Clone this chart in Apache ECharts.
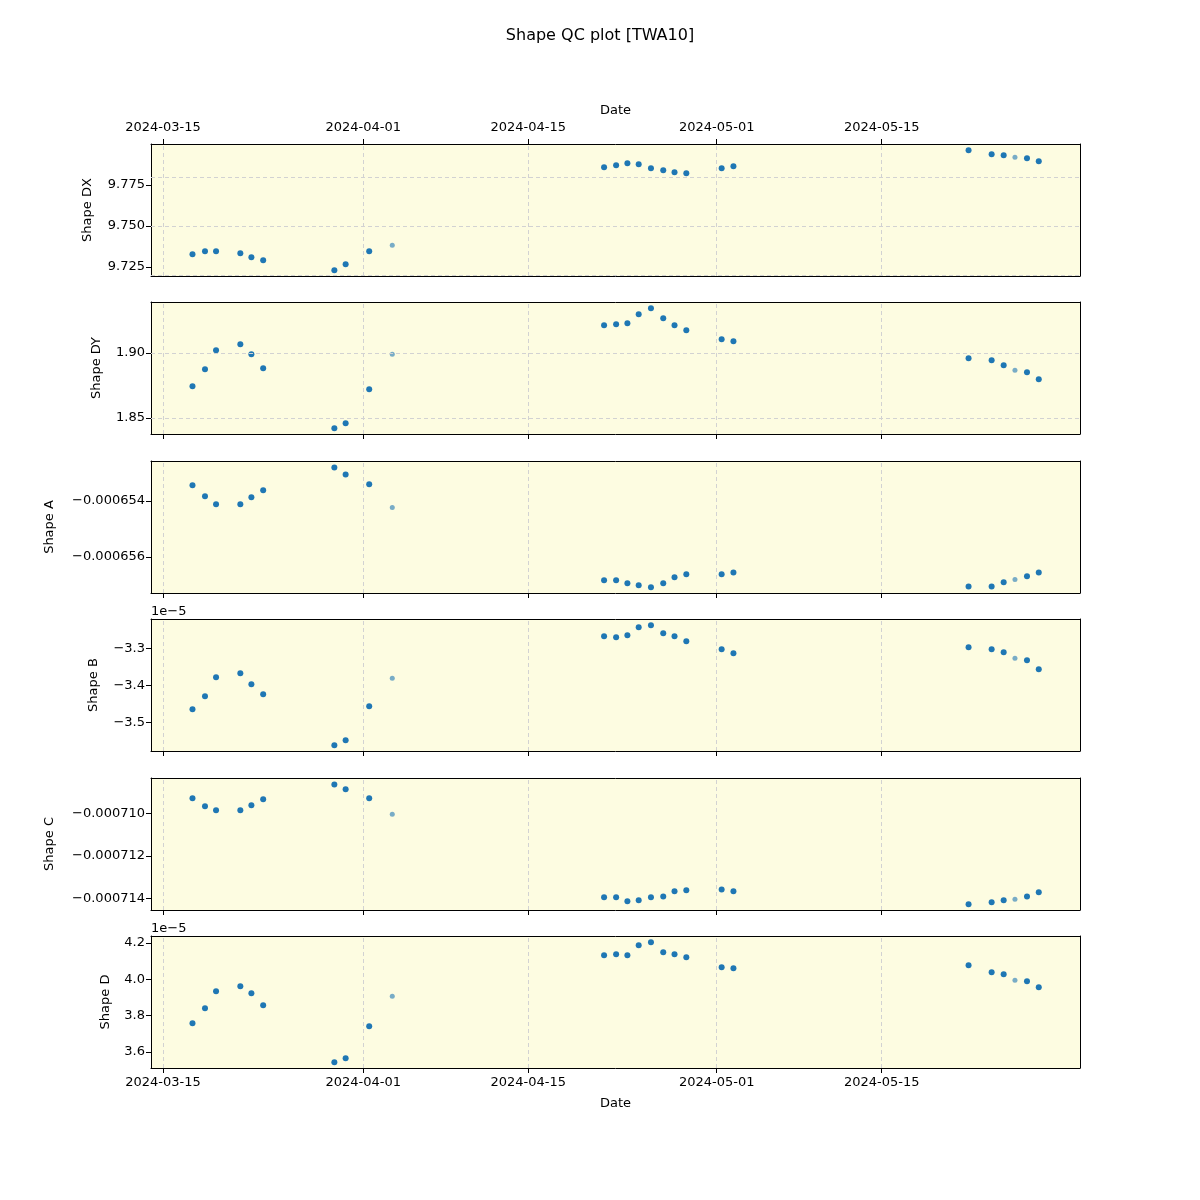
<!DOCTYPE html>
<html>
<head>
<meta charset="utf-8">
<script src="https://cdn.jsdelivr.net/npm/echarts@6/dist/echarts.min.js"></script>
<style>
  html, body { margin: 0; padding: 0; background: #fff; }
  #chart { width: 1200px; height: 1200px; }
</style>
</head>
<body>
<div id="chart"></div>
<script>
// observation dates
const dates = [
  '2024-03-17 12:00', '2024-03-18 13:30', '2024-03-19 12:00', '2024-03-21 13:30',
  '2024-03-22 12:00', '2024-03-23 12:00', '2024-03-29 13:00', '2024-03-30 12:00',
  '2024-04-01 12:00', '2024-04-03 11:00', '2024-04-21 10:30', '2024-04-22 11:00',
  '2024-04-23 10:00', '2024-04-24 09:00', '2024-04-25 10:00', '2024-04-26 11:00',
  '2024-04-27 10:00', '2024-04-28 10:00', '2024-05-01 10:00', '2024-05-02 10:00',
  '2024-05-22 09:00', '2024-05-24 08:00', '2024-05-25 08:30', '2024-05-26 07:30',
  '2024-05-27 08:00', '2024-05-28 08:00'
]
// points drawn lighter
const fadedIdx = [9, 23]

const shapeDX = [9.7327, 9.7346, 9.7346, 9.7334, 9.7309, 9.7291, 9.7230, 9.7266, 9.7346, 9.7382,
  9.7858, 9.7870, 9.7882, 9.7876, 9.7852, 9.7840, 9.7828, 9.7821, 9.7852, 9.7864,
  9.7962, 9.7937, 9.7931, 9.7919, 9.7913, 9.7895]
const shapeDY = [1.8744, 1.8875, 1.9021, 1.9067, 1.8990, 1.8882, 1.8421, 1.8459, 1.8721, 1.8990,
  1.9213, 1.9221, 1.9228, 1.9297, 1.9344, 1.9267, 1.9213, 1.9174, 1.9105, 1.9090,
  1.8959, 1.8944, 1.8905, 1.8867, 1.8851, 1.8798]
const shapeA = [-0.00065344, -0.00065383, -0.00065412, -0.00065412, -0.00065387, -0.00065362,
  -0.00065280, -0.00065305, -0.00065340, -0.00065423,
  -0.00065683, -0.00065683, -0.00065694, -0.00065701, -0.00065708, -0.00065694, -0.00065672,
  -0.00065662, -0.00065662, -0.00065655,
  -0.00065705, -0.00065705, -0.00065690, -0.00065680, -0.00065669, -0.00065655]
const shapeB = [-3.4649e-5, -3.4297e-5, -3.3784e-5, -3.3676e-5, -3.3973e-5, -3.4243e-5,
  -3.5622e-5, -3.5486e-5, -3.4568e-5, -3.3811e-5,
  -3.2676e-5, -3.2703e-5, -3.2649e-5, -3.2432e-5, -3.2378e-5, -3.2595e-5, -3.2676e-5,
  -3.2811e-5, -3.3027e-5, -3.3135e-5,
  -3.2973e-5, -3.3027e-5, -3.3108e-5, -3.3270e-5, -3.3324e-5, -3.3568e-5]
const shapeC = [-0.00070929, -0.00070967, -0.00070986, -0.00070986, -0.00070962, -0.00070934,
  -0.00070864, -0.00070887, -0.00070929, -0.00071005,
  -0.00071395, -0.00071395, -0.00071414, -0.00071409, -0.00071395, -0.00071391, -0.00071367,
  -0.00071362, -0.00071358, -0.00071367,
  -0.00071428, -0.00071419, -0.00071409, -0.00071405, -0.00071391, -0.00071372]
const shapeD = [3.7578e-5, 3.8404e-5, 3.9339e-5, 3.9615e-5, 3.9229e-5, 3.8569e-5,
  3.5431e-5, 3.5651e-5, 3.7413e-5, 3.9064e-5,
  4.1321e-5, 4.1376e-5, 4.1321e-5, 4.1872e-5, 4.2037e-5, 4.1486e-5, 4.1376e-5,
  4.1211e-5, 4.0661e-5, 4.0606e-5,
  4.0771e-5, 4.0385e-5, 4.0275e-5, 3.9945e-5, 3.9890e-5, 3.9560e-5]

// tick labels
const dateTicks = ['2024-03-15', '2024-04-01', '2024-04-15', '2024-05-01', '2024-05-15']
const dxTicks = [9.725, 9.750, 9.775]
const dyTicks = [1.85, 1.90]
const aTicks = [-0.000656, -0.000654]
const bTicks = [-3.5e-5, -3.4e-5, -3.3e-5]
const cTicks = [-0.000714, -0.000712, -0.000710]
const dTicks = [3.6e-5, 3.8e-5, 4.0e-5, 4.2e-5]

const minus = s => s.replace('-', '\u2212')
const panels = [
  {name: 'Shape DX', values: shapeDX, ticks: dxTicks, min: 9.71951, max: 9.8000, gap: 57, fmt: v => v.toFixed(3)},
  {name: 'Shape DY', values: shapeDY, ticks: dyTicks, min: 1.8377, max: 1.9392, gap: 48, fmt: v => v.toFixed(2)},
  {name: 'Shape A', values: shapeA, ticks: aTicks, min: -0.000657286, max: -0.000652571, gap: 95, fmt: v => minus(v.toFixed(6))},
  {name: 'Shape B', values: shapeB, ticks: bTicks, min: -3.5776e-5, max: -3.2208e-5, gap: 51, fmt: v => minus((v / 1e-5).toFixed(1)), exp: true},
  {name: 'Shape C', values: shapeC, ticks: cTicks, min: -0.00071455, max: -0.00070834, gap: 95, fmt: v => minus(v.toFixed(6))},
  {name: 'Shape D', values: shapeD, ticks: dTicks, min: 3.5117e-5, max: 4.2384e-5, gap: 39, fmt: v => (v / 1e-5).toFixed(1), exp: true}
]

const tops = [144, 302, 461, 619, 778, 936]
const plotH = 132
const font = 'DejaVu Sans'
const toTs = s => new Date(s.replace(' ', 'T') + (s.length === 10 ? 'T00:00:00' : ':00')).getTime()
const xMin = toTs('2024-03-13 23:30')
const xMax = toTs('2024-05-31 20:00')
const tickTs = dateTicks.map(toTs)
const dateTs = dates.map(toTs)
const pad = n => String(n).padStart(2, '0')
const fmtDate = v => { const d = new Date(v); return d.getFullYear() + '-' + pad(d.getMonth() + 1) + '-' + pad(d.getDate()) }
const gridLine = {color: '#d2d2d2', type: [4, 3], width: 1}
const blackLine = {show: true, lineStyle: {color: '#000', width: 1}}

const chart = echarts.init(document.getElementById('chart'))

const grid = [], xAxis = [], yAxis = [], series = [], graphic = []
const frameX = [], frameY = []
panels.forEach((p, i) => {
  grid.push({
    left: 151, right: 120, top: tops[i], height: plotH,
    show: true, backgroundColor: '#fdfce1', borderWidth: 0
  })
  const isTop = i === 0
  const isBottom = i === panels.length - 1
  xAxis.push({
    type: 'value', gridIndex: i, min: xMin, max: xMax, scale: true,
    position: isTop ? 'top' : 'bottom',
    name: (isTop || isBottom) ? 'Date' : '',
    nameLocation: 'middle', nameGap: isTop ? 27 : 29,
    nameTextStyle: {color: '#000', fontFamily: font, fontSize: 13},
    axisLine: blackLine,
    axisTick: {show: true, customValues: tickTs, length: 5, lineStyle: {color: '#000'}},
    axisLabel: {
      show: isTop || isBottom, customValues: tickTs, color: '#000', fontFamily: font, fontSize: 13,
      margin: isTop ? 10 : 8, formatter: fmtDate
    },
    splitLine: {show: false}
  })
  yAxis.push({
    type: 'value', gridIndex: i, min: p.min, max: p.max, scale: true,
    name: p.name, nameLocation: 'middle', nameGap: p.gap,
    nameTextStyle: {color: '#000', fontFamily: font, fontSize: 13},
    axisLine: blackLine,
    axisTick: {show: true, customValues: p.ticks, length: 5, lineStyle: {color: '#000'}},
    axisLabel: {customValues: p.ticks, color: '#000', fontFamily: font, fontSize: 13, margin: 6, formatter: p.fmt},
    splitLine: {show: false}
  })
  // opposite frame sides
  frameX.push({
    type: 'value', gridIndex: i, min: xMin, max: xMax, position: isTop ? 'bottom' : 'top',
    axisLine: blackLine, axisTick: {show: false}, axisLabel: {show: false}, splitLine: {show: false}
  })
  frameY.push({
    type: 'value', gridIndex: i, min: p.min, max: p.max, position: 'right',
    axisLine: blackLine, axisTick: {show: false}, axisLabel: {show: false}, splitLine: {show: false}
  })
  // dashed grid lines
  series.push({
    type: 'scatter', xAxisIndex: i, yAxisIndex: i, data: [], z: 1, silent: true,
    markLine: {
      silent: true, symbol: 'none', label: {show: false}, animation: false,
      lineStyle: gridLine,
      data: tickTs.map(t => ({xAxis: t})).concat(p.ticks.map(v => ({yAxis: v})))
    }
  })
  series.push({
    type: 'scatter', xAxisIndex: i, yAxisIndex: i, z: 3,
    itemStyle: {color: '#1f77b4'},
    data: p.values.map((v, k) => {
      const faded = fadedIdx.includes(k)
      return {
        value: [dateTs[k], v],
        symbolSize: faded ? 5 : 6,
        itemStyle: {opacity: faded ? 0.6 : 1}
      }
    })
  })
  if (p.exp) {
    graphic.push({
      type: 'text', left: 151, top: tops[i] - 14,
      style: {text: '1e\u22125', fill: '#000', font: '13px "DejaVu Sans"'}
    })
  }
})

chart.setOption({
  animation: false,
  title: {
    text: 'Shape QC plot [TWA10]', left: 'center', top: 23,
    textStyle: {color: '#000', fontFamily: font, fontSize: 16, fontWeight: 'normal'}
  },
  grid,
  xAxis: xAxis.concat(frameX),
  yAxis: yAxis.concat(frameY),
  series, graphic
})
</script>
</body>
</html>
